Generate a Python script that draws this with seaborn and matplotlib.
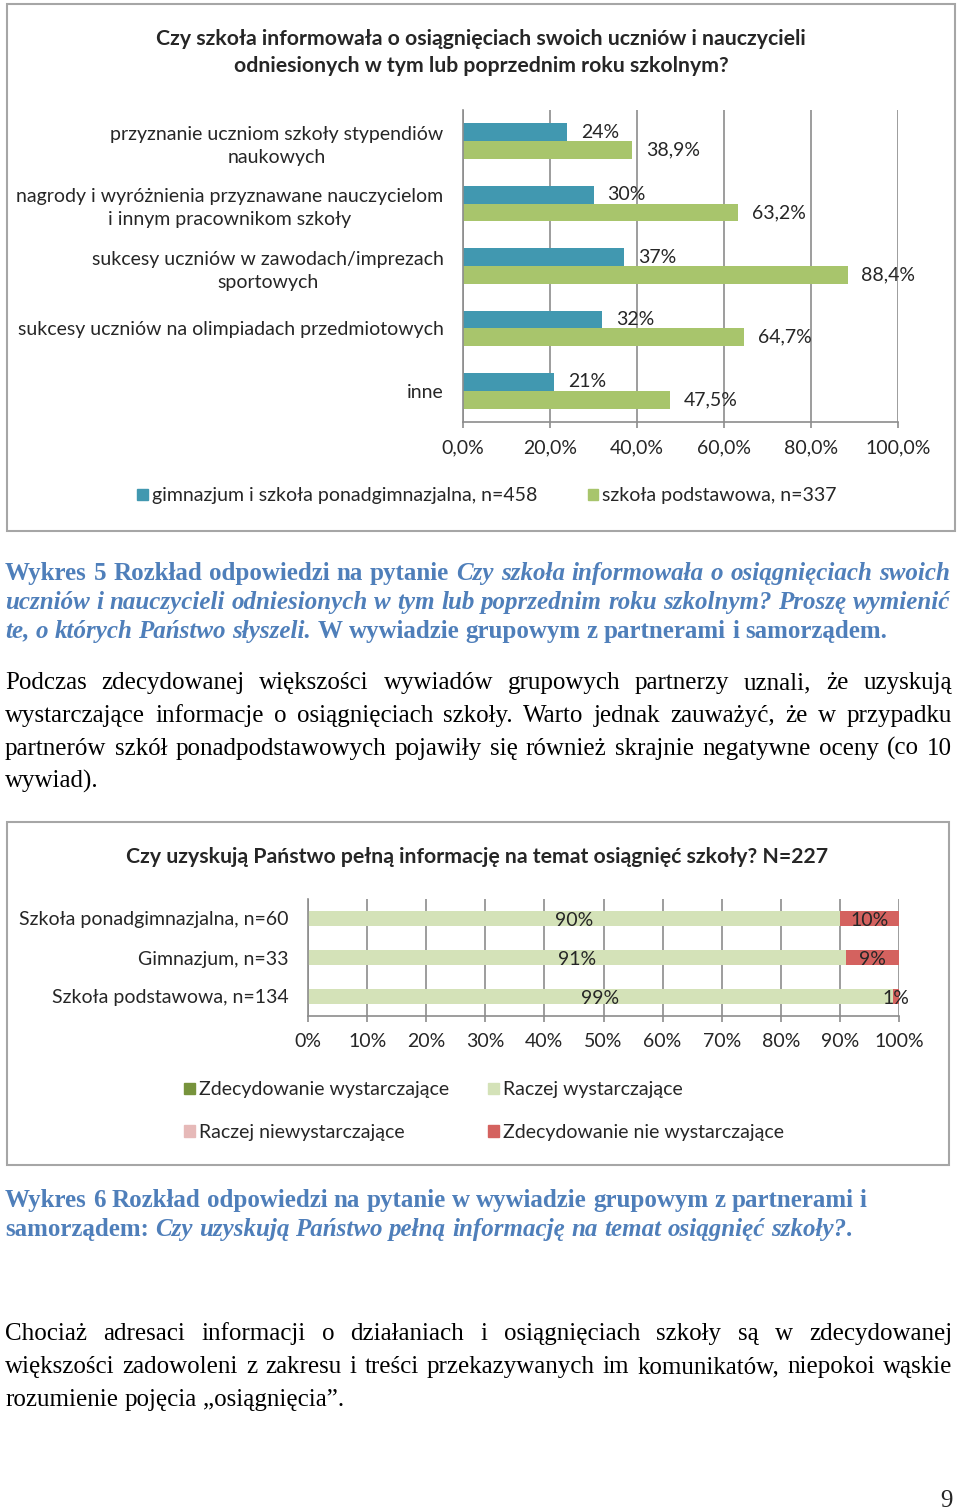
import numpy as np
import pandas as pd
import matplotlib
matplotlib.use('Agg')
import matplotlib.pyplot as plt
from matplotlib.patches import Rectangle, Patch
import seaborn as sns

sns.set_style('white')
plt.rcParams['font.family'] = ['Lato', 'DejaVu Sans']

W, H = 960, 1510
SZARY = '#8c8c8c'
NIEB = '#4198B0'
ZIEL = '#A8C56C'
TYTUL_KOLOR = '#4F7FBA'
FS = 14      # rozmiar czcionki w wykresach
FS_T = 15.3  # tytuły wykresów

# --- Wykres 5: dane ---
kategorie_5 = ['przyznanie uczniom szkoły stypendiów\nnaukowych',
               'nagrody i wyróżnienia przyznawane nauczycielom\ni innym pracownikom szkoły',
               'sukcesy uczniów w zawodach/imprezach\nsportowych',
               'sukcesy uczniów na olimpiadach przedmiotowych',
               'inne']
grupy_5 = ['gimnazjum i szkoła ponadgimnazjalna, n=458', 'szkoła podstawowa, n=337']
gimnazjum = [24, 30, 37, 32, 21]
podstawowa = [38.9, 63.2, 88.4, 64.7, 47.5]

# --- Wykres 6: dane ---
kategorie_6 = ['Szkoła ponadgimnazjalna, n=60', 'Gimnazjum, n=33', 'Szkoła podstawowa, n=134']
odpowiedzi = ['Zdecydowanie wystarczające', 'Raczej wystarczające',
              'Raczej niewystarczające', 'Zdecydowanie nie wystarczające']
zdec_wyst = [0, 0, 0]
raczej_wyst = [90, 91, 99]
raczej_niewyst = [0, 0, 0]
zdec_nie = [10, 9, 1]
kolory_6 = ['#77933C', '#D4E2B8', '#E6B9B8', '#D4625F']

fig = plt.figure(figsize=(W / 100, H / 100), dpi=100)


def add_ax(x0, y0, x1, y1):
    return fig.add_axes([x0 / W, 1 - y1 / H, (x1 - x0) / W, (y1 - y0) / H])


def ramka(x0, y0, x1, y1):
    fig.add_artist(Rectangle((x0 / W, 1 - y1 / H), (x1 - x0) / W, (y1 - y0) / H,
                             transform=fig.transFigure, fill=False,
                             edgecolor='#a6a6a6', lw=1.5))


def styl_osi(ax, n_kat):
    ax.set_axisbelow(True)
    ax.xaxis.grid(True, color=SZARY, lw=1.2)
    ax.yaxis.grid(False)
    for s in ['top', 'right']:
        ax.spines[s].set_visible(False)
    for s in ['left', 'bottom']:
        ax.spines[s].set_color(SZARY)
        ax.spines[s].set_linewidth(1.2)
    ax.set_yticks(np.arange(-0.5, n_kat, 1), minor=True)
    ax.tick_params(axis='y', which='major', length=0, pad=14, labelsize=FS)
    ax.tick_params(axis='y', which='minor', length=5, color=SZARY, width=1.2)
    ax.tick_params(axis='x', which='major', length=4, color=SZARY, width=1.2,
                   pad=8.5, labelsize=FS, direction='out', bottom=True)
    ax.set_xlabel('')
    ax.set_ylabel('')


# ---------------------------------------------------------
# Wykres 5
# ---------------------------------------------------------
ramka(7, 4, 955, 531)
fig.text(481 / W, 1 - 52.5 / H,
         'Czy szkoła informowała o osiągnięciach swoich uczniów i nauczycieli\n'
         'odniesionych w tym lub poprzednim roku szkolnym?',
         ha='center', va='center', fontsize=FS_T, fontweight='bold',
         linespacing=1.42, multialignment='center')

ax1 = add_ax(463, 110, 898, 422)
df5 = pd.DataFrame({'kategoria': kategorie_5 * 2,
                    'procent': gimnazjum + podstawowa,
                    'grupa': [grupy_5[0]] * 5 + [grupy_5[1]] * 5})
sns.barplot(data=df5, y='kategoria', x='procent', hue='grupa', palette=[NIEB, ZIEL],
            width=0.57, orient='h', ax=ax1, legend=False, saturation=1,
            errorbar=None, linewidth=0)
ax1.set_xlim(0, 100)
ax1.set_xticks(range(0, 101, 20))
ax1.set_xticklabels([f'{t:.1f}%'.replace('.', ',') for t in range(0, 101, 20)])
styl_osi(ax1, 5)
for lbl in ax1.get_yticklabels():
    lbl.set_multialignment('center')
    lbl.set_linespacing(1.45)

ax1.bar_label(ax1.containers[0], labels=[f'{v:.0f}%' for v in gimnazjum],
              padding=10, fontsize=FS)
ax1.bar_label(ax1.containers[1], labels=[f'{v:.1f}%'.replace('.', ',') for v in podstawowa],
              padding=10, fontsize=FS)

fig.legend(handles=[Patch(color=NIEB), Patch(color=ZIEL)], labels=grupy_5,
           loc='center', bbox_to_anchor=(487 / W, 1 - 496 / H), ncol=2, frameon=False,
           handlelength=0.55, handleheight=0.55, handletextpad=0.2,
           columnspacing=2.6, fontsize=FS, borderpad=0, borderaxespad=0)

# ---------------------------------------------------------
# Wykres 6
# ---------------------------------------------------------
ramka(7, 822, 949, 1165)
fig.text(477 / W, 1 - 857 / H,
         'Czy uzyskują Państwo pełną informację na temat osiągnięć szkoły? N=227',
         ha='center', va='center', fontsize=FS_T, fontweight='bold')

ax2 = add_ax(308, 899, 899, 1016)
serie = [zdec_wyst, raczej_wyst, raczej_niewyst, zdec_nie]
skum = np.cumsum(np.array(serie, dtype=float), axis=0)
# słupki skumulowane: od najdłuższego do najkrótszego
for i in reversed(range(len(serie))):
    sns.barplot(x=skum[i], y=kategorie_6, color=kolory_6[i], width=0.41, orient='h',
                ax=ax2, saturation=1, linewidth=0, errorbar=None)
for i, s in enumerate(serie):
    for j, v in enumerate(s):
        if v > 0:
            ax2.text(skum[i][j] - v / 2, j + 0.04, f'{v}%', ha='center', va='center', fontsize=FS)
ax2.set_xlim(0, 100)
ax2.set_xticks(range(0, 101, 10))
ax2.set_xticklabels([f'{t}%' for t in range(0, 101, 10)])
styl_osi(ax2, 3)

uchwyty = [Patch(color=k) for k in kolory_6]
kolejnosc = [0, 2, 1, 3]
fig.legend(handles=[uchwyty[k] for k in kolejnosc], labels=[odpowiedzi[k] for k in kolejnosc],
           loc='center', bbox_to_anchor=(484 / W, 1 - 1111 / H), ncol=2, frameon=False,
           handlelength=0.55, handleheight=0.55, handletextpad=0.2, labelspacing=1.3,
           columnspacing=2.0, fontsize=FS, borderpad=0, borderaxespad=0)

# ---------------------------------------------------------
# Tekst dokumentu
# ---------------------------------------------------------
SERIF = 'Liberation Serif'
B = dict(family=SERIF, weight='bold', color=TYTUL_KOLOR)
BI = dict(family=SERIF, weight='bold', style='italic', color=TYTUL_KOLOR)
N = dict(family=SERIF, color='black')
TS = 18
rend = fig.canvas.get_renderer()


def tokeny(segs):
    slowa = [[]]
    for st, t in segs:
        czesci = t.split(' ')
        for k, c in enumerate(czesci):
            if k > 0:
                slowa.append([])
            if c:
                slowa[-1].append((st, c))
    return [s for s in slowa if s]


def wiersz(y, segs, justuj, x0=5, x1=952):
    slowa = tokeny(segs)
    arty = []
    for s in slowa:
        kaw = []
        for st, t in s:
            a = fig.text(0, 1 - (y + 7) / H, t, fontsize=TS, va='baseline', **st)
            kaw.append((a, a.get_window_extent(rend).width))
        arty.append(kaw)
    szer = [sum(p[1] for p in s) for s in arty]
    if justuj and len(arty) > 1:
        odstep = (x1 - x0 - sum(szer)) / (len(arty) - 1)
    else:
        odstep = TS * 0.25 * 100 / 72
    x = x0
    for s in arty:
        for a, w in s:
            a.set_x(x / W)
            x += w
        x += odstep


wiersz(573, [(B, 'Wykres 5 Rozkład odpowiedzi na pytanie '),
             (BI, 'Czy szkoła informowała o osiągnięciach swoich')], True, x1=950)
wiersz(602, [(BI, 'uczniów i nauczycieli odniesionych w tym lub poprzednim roku szkolnym? Proszę wymienić')],
       True, x1=950)
wiersz(631, [(BI, 'te, o których Państwo słyszeli.'),
             (B, ' W wywiadzie grupowym z partnerami i samorządem.')], False)

wiersz(682, [(N, 'Podczas zdecydowanej większości wywiadów grupowych partnerzy uznali, że uzyskują')], True)
wiersz(715, [(N, 'wystarczające informacje o osiągnięciach szkoły. Warto jednak zauważyć, że w przypadku')], True)
wiersz(748, [(N, 'partnerów szkół ponadpodstawowych pojawiły się również skrajnie negatywne oceny (co 10')], True)
wiersz(781, [(N, 'wywiad).')], False)

wiersz(1200, [(B, 'Wykres 6 Rozkład odpowiedzi na pytanie w wywiadzie grupowym z partnerami i')], False)
wiersz(1229, [(B, 'samorządem: '),
              (BI, 'Czy uzyskują Państwo pełną informację na temat osiągnięć szkoły?'),
              (B, '.')], False)

wiersz(1333, [(N, 'Chociaż adresaci informacji o działaniach i osiągnięciach szkoły są w zdecydowanej')], True)
wiersz(1366, [(N, 'większości zadowoleni z zakresu i treści przekazywanych im komunikatów,  niepokoi wąskie')], True)
wiersz(1399, [(N, 'rozumienie pojęcia „osiągnięcia”.')], False)

fig.text(946 / W, 1 - 1507 / H, '9', fontsize=TS, va='baseline', ha='center', family=SERIF)

fig.savefig('out.png', dpi=100)
